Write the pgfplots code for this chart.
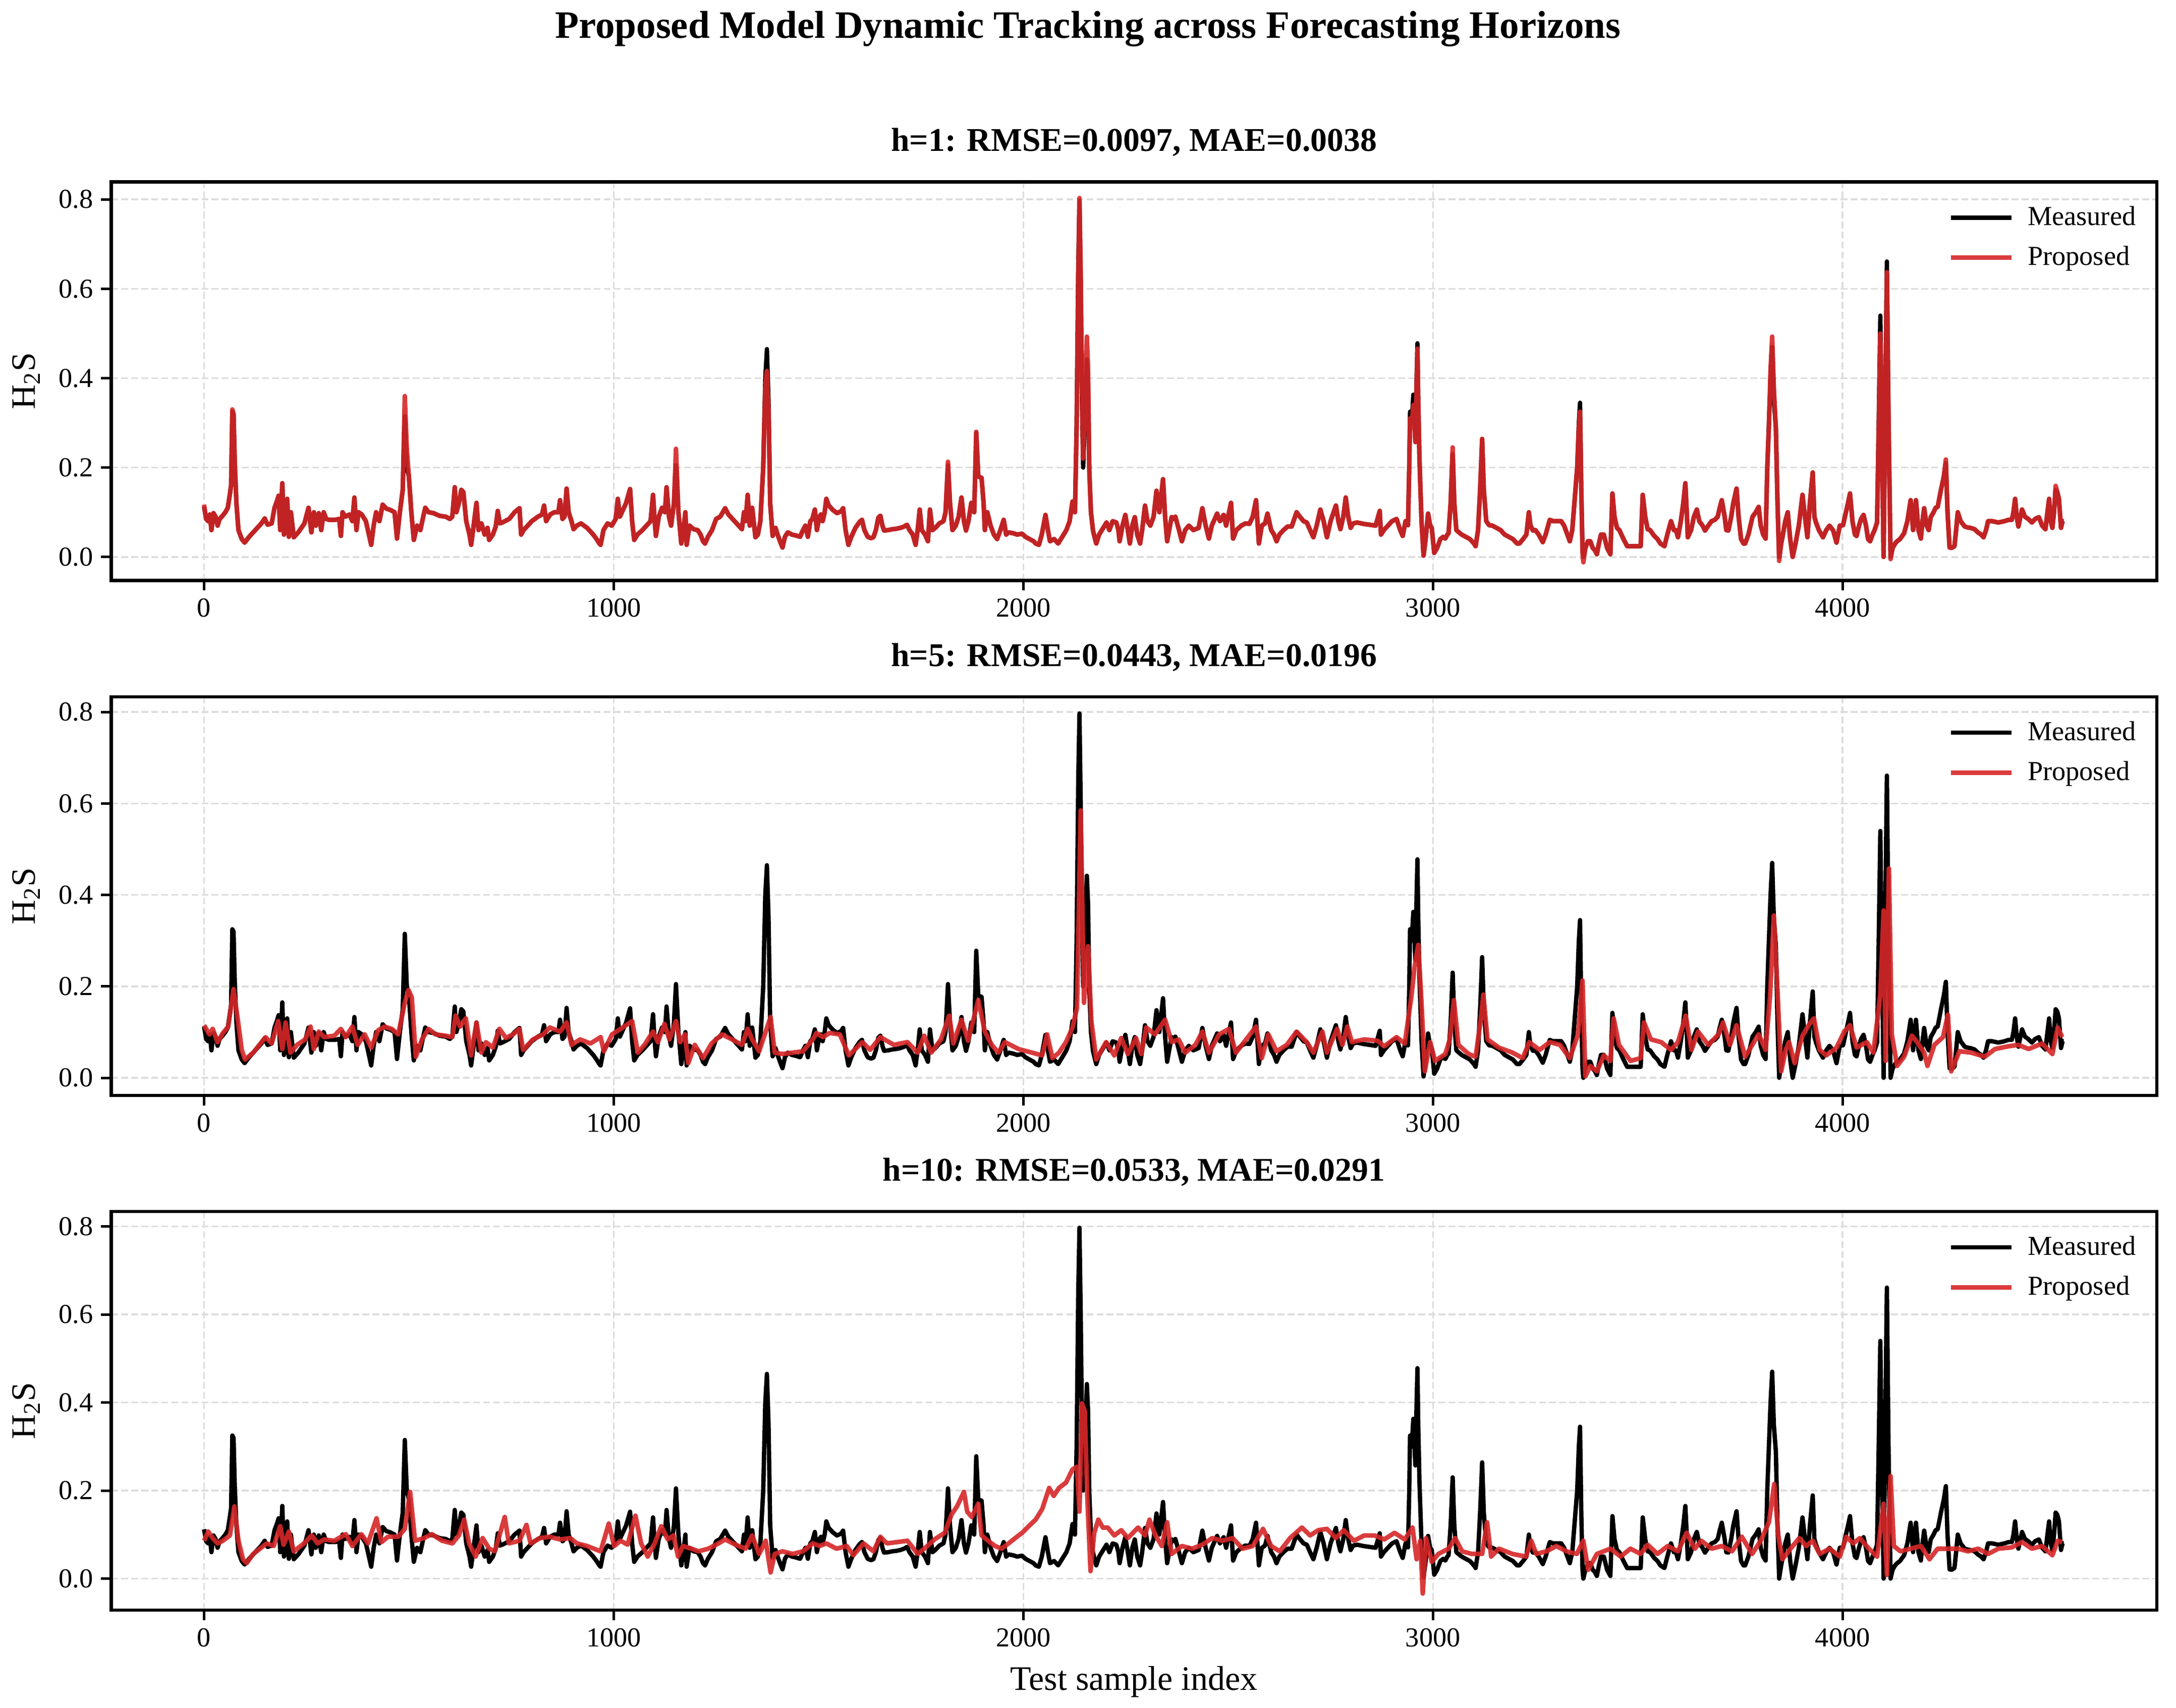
\documentclass[border=0pt]{standalone}
\usepackage{fontspec}
\setmainfont{Liberation Serif}
\usepackage{pgfplots}
\pgfplotsset{compat=1.18}
\usepackage{pgfplotstable}
\definecolor{tabred}{HTML}{D62728}
\definecolor{gridgray}{HTML}{DDDDDD}

\pgfplotstableread{
x m h1
0 0.112 0.117
5 0.085 0.085
10 0.080 0.080
14 0.095 0.095
18 0.060 0.060
23 0.098 0.098
28 0.090 0.090
33 0.070 0.070
38 0.085 0.085
45 0.092 0.092
52 0.100 0.100
58 0.110 0.110
63 0.140 0.140
66 0.160 0.160
69 0.325 0.330
72 0.320 0.320
75 0.210 0.210
79 0.120 0.120
84 0.060 0.060
92 0.040 0.040
99 0.032 0.032
110 0.045 0.045
125 0.060 0.060
140 0.075 0.075
148 0.086 0.086
155 0.072 0.072
165 0.075 0.075
172 0.110 0.110
178 0.125 0.125
182 0.137 0.137
186 0.060 0.060
191 0.165 0.165
195 0.050 0.050
200 0.060 0.060
203 0.130 0.130
207 0.045 0.045
212 0.100 0.100
219 0.044 0.044
230 0.055 0.055
245 0.075 0.075
255 0.110 0.110
262 0.055 0.055
268 0.100 0.100
273 0.070 0.070
280 0.098 0.098
286 0.060 0.060
292 0.100 0.100
298 0.085 0.085
305 0.083 0.083
320 0.083 0.083
330 0.085 0.085
334 0.047 0.047
338 0.100 0.100
345 0.090 0.090
355 0.095 0.095
362 0.080 0.080
367 0.133 0.133
372 0.060 0.060
377 0.100 0.100
385 0.095 0.095
395 0.080 0.080
400 0.060 0.060
408 0.027 0.027
414 0.070 0.070
420 0.100 0.100
428 0.080 0.080
436 0.117 0.117
445 0.108 0.108
455 0.105 0.105
465 0.100 0.100
471 0.041 0.041
478 0.100 0.100
485 0.150 0.150
490 0.315 0.360
495 0.200 0.240
500 0.180 0.180
506 0.100 0.100
512 0.038 0.038
520 0.070 0.070
528 0.060 0.060
535 0.090 0.090
540 0.110 0.110
548 0.100 0.100
560 0.098 0.098
575 0.092 0.092
590 0.090 0.090
600 0.085 0.085
606 0.090 0.090
612 0.156 0.156
616 0.100 0.100
622 0.120 0.120
628 0.150 0.150
633 0.145 0.145
640 0.080 0.080
648 0.050 0.050
652 0.027 0.027
658 0.070 0.070
665 0.121 0.121
670 0.060 0.060
677 0.075 0.075
685 0.050 0.050
692 0.065 0.065
696 0.038 0.038
705 0.050 0.050
712 0.068 0.068
717 0.103 0.103
722 0.075 0.075
730 0.078 0.078
745 0.085 0.085
758 0.100 0.100
770 0.109 0.109
774 0.050 0.050
780 0.060 0.060
790 0.070 0.070
800 0.080 0.080
815 0.090 0.090
825 0.095 0.095
830 0.115 0.115
835 0.080 0.080
845 0.095 0.095
855 0.100 0.100
865 0.100 0.100
869 0.127 0.127
875 0.085 0.085
880 0.090 0.090
885 0.153 0.153
890 0.100 0.100
897 0.080 0.080
902 0.062 0.062
910 0.070 0.070
920 0.075 0.075
935 0.065 0.065
950 0.050 0.050
958 0.040 0.040
965 0.030 0.030
968 0.027 0.027
975 0.060 0.060
985 0.075 0.075
995 0.070 0.070
1005 0.085 0.085
1010 0.130 0.130
1015 0.090 0.090
1020 0.100 0.100
1030 0.120 0.120
1040 0.152 0.152
1045 0.080 0.080
1050 0.038 0.038
1058 0.050 0.050
1070 0.060 0.060
1085 0.075 0.075
1090 0.080 0.080
1096 0.139 0.139
1100 0.080 0.080
1103 0.047 0.047
1110 0.090 0.090
1118 0.110 0.110
1125 0.100 0.100
1129 0.156 0.156
1135 0.090 0.090
1140 0.070 0.070
1147 0.120 0.120
1152 0.205 0.242
1158 0.100 0.100
1165 0.030 0.030
1170 0.060 0.060
1175 0.100 0.100
1178 0.027 0.027
1185 0.070 0.070
1195 0.062 0.062
1205 0.060 0.060
1212 0.050 0.050
1218 0.035 0.035
1223 0.030 0.030
1230 0.045 0.045
1240 0.060 0.060
1250 0.085 0.085
1260 0.090 0.090
1272 0.109 0.109
1280 0.095 0.095
1290 0.085 0.085
1300 0.075 0.075
1313 0.062 0.062
1318 0.100 0.100
1322 0.080 0.080
1327 0.139 0.139
1332 0.070 0.070
1338 0.110 0.110
1346 0.044 0.044
1352 0.050 0.050
1358 0.080 0.080
1365 0.200 0.200
1370 0.400 0.380
1374 0.465 0.416
1378 0.350 0.330
1382 0.120 0.120
1388 0.047 0.047
1395 0.065 0.065
1400 0.050 0.050
1406 0.035 0.035
1412 0.021 0.021
1418 0.045 0.045
1425 0.055 0.055
1435 0.050 0.050
1445 0.048 0.048
1455 0.045 0.045
1462 0.060 0.060
1468 0.070 0.070
1474 0.045 0.045
1480 0.080 0.080
1485 0.085 0.085
1491 0.106 0.106
1496 0.060 0.060
1502 0.090 0.090
1506 0.095 0.095
1510 0.080 0.080
1515 0.100 0.100
1519 0.130 0.130
1525 0.115 0.115
1535 0.105 0.105
1545 0.098 0.098
1555 0.102 0.102
1560 0.109 0.109
1566 0.060 0.060
1573 0.027 0.027
1580 0.045 0.045
1590 0.065 0.065
1600 0.078 0.078
1606 0.083 0.083
1612 0.060 0.060
1620 0.045 0.045
1628 0.042 0.042
1634 0.044 0.044
1640 0.060 0.060
1646 0.088 0.088
1651 0.092 0.092
1656 0.070 0.070
1660 0.059 0.059
1670 0.060 0.060
1680 0.062 0.062
1690 0.063 0.063
1700 0.065 0.065
1709 0.068 0.068
1716 0.072 0.072
1722 0.060 0.060
1730 0.050 0.050
1737 0.027 0.027
1742 0.060 0.060
1747 0.106 0.106
1752 0.060 0.060
1760 0.050 0.050
1767 0.035 0.035
1772 0.106 0.106
1778 0.060 0.060
1785 0.065 0.065
1795 0.075 0.075
1805 0.080 0.080
1810 0.100 0.100
1816 0.205 0.213
1821 0.120 0.120
1827 0.060 0.060
1835 0.070 0.070
1842 0.090 0.090
1849 0.133 0.133
1855 0.080 0.080
1860 0.059 0.059
1866 0.080 0.080
1873 0.121 0.121
1880 0.100 0.100
1885 0.278 0.280
1890 0.180 0.180
1898 0.177 0.177
1903 0.120 0.120
1906 0.060 0.060
1912 0.100 0.100
1920 0.070 0.070
1928 0.050 0.050
1936 0.040 0.040
1944 0.060 0.060
1952 0.083 0.083
1958 0.050 0.050
1964 0.055 0.055
1975 0.053 0.053
1985 0.050 0.050
1997 0.052 0.052
2005 0.045 0.045
2015 0.040 0.040
2025 0.035 0.035
2030 0.030 0.030
2038 0.027 0.027
2045 0.050 0.050
2054 0.094 0.094
2060 0.060 0.060
2065 0.035 0.035
2075 0.040 0.040
2085 0.030 0.030
2095 0.045 0.045
2105 0.060 0.060
2113 0.080 0.080
2120 0.124 0.124
2126 0.100 0.100
2130 0.300 0.280
2134 0.650 0.620
2137 0.797 0.803
2140 0.600 0.640
2143 0.350 0.380
2146 0.200 0.220
2150 0.300 0.330
2155 0.442 0.493
2158 0.380 0.420
2161 0.195 0.195
2165 0.100 0.100
2170 0.059 0.059
2175 0.040 0.040
2178 0.030 0.030
2185 0.050 0.050
2195 0.065 0.065
2203 0.077 0.077
2210 0.060 0.060
2218 0.080 0.080
2227 0.077 0.077
2232 0.060 0.060
2235 0.035 0.035
2242 0.070 0.070
2249 0.094 0.094
2255 0.060 0.060
2260 0.030 0.030
2266 0.070 0.070
2272 0.089 0.089
2278 0.050 0.050
2285 0.030 0.030
2290 0.060 0.060
2297 0.115 0.115
2303 0.080 0.080
2310 0.070 0.070
2318 0.090 0.090
2325 0.148 0.148
2332 0.100 0.100
2341 0.174 0.174
2346 0.090 0.090
2351 0.035 0.035
2356 0.060 0.060
2362 0.089 0.089
2367 0.085 0.085
2371 0.090 0.090
2380 0.060 0.060
2387 0.035 0.035
2395 0.060 0.060
2404 0.070 0.070
2415 0.060 0.060
2428 0.065 0.065
2437 0.109 0.109
2445 0.070 0.070
2453 0.041 0.041
2460 0.070 0.070
2473 0.097 0.097
2480 0.080 0.080
2489 0.094 0.094
2495 0.070 0.070
2507 0.121 0.121
2512 0.041 0.041
2520 0.060 0.060
2532 0.070 0.070
2542 0.075 0.075
2552 0.074 0.074
2560 0.090 0.090
2568 0.127 0.127
2575 0.030 0.030
2582 0.070 0.070
2590 0.075 0.075
2596 0.097 0.097
2605 0.060 0.060
2612 0.050 0.050
2618 0.035 0.035
2625 0.050 0.050
2635 0.060 0.060
2645 0.068 0.068
2655 0.068 0.068
2667 0.100 0.100
2675 0.090 0.090
2684 0.080 0.080
2692 0.077 0.077
2700 0.060 0.060
2708 0.044 0.044
2716 0.070 0.070
2725 0.106 0.106
2733 0.080 0.080
2741 0.044 0.044
2750 0.080 0.080
2763 0.115 0.115
2769 0.080 0.080
2774 0.062 0.062
2781 0.090 0.090
2787 0.133 0.133
2793 0.090 0.090
2799 0.065 0.065
2805 0.075 0.075
2815 0.077 0.077
2830 0.074 0.074
2845 0.072 0.072
2860 0.070 0.070
2870 0.103 0.103
2873 0.050 0.050
2880 0.060 0.060
2890 0.070 0.070
2900 0.080 0.080
2911 0.085 0.085
2920 0.060 0.060
2926 0.047 0.047
2933 0.080 0.080
2939 0.071 0.071
2942 0.200 0.200
2944 0.325 0.310
2948 0.300 0.290
2952 0.363 0.340
2955 0.300 0.290
2957 0.257 0.257
2960 0.400 0.390
2962 0.478 0.466
2964 0.350 0.350
2967 0.218 0.218
2972 0.080 0.080
2977 0.003 0.003
2982 0.040 0.040
2988 0.097 0.097
2993 0.070 0.070
2997 0.065 0.065
3003 0.009 0.009
3010 0.020 0.020
3018 0.040 0.040
3025 0.045 0.045
3030 0.041 0.041
3035 0.050 0.050
3038 0.053 0.053
3043 0.120 0.120
3048 0.230 0.245
3052 0.120 0.120
3057 0.060 0.060
3062 0.056 0.056
3070 0.050 0.050
3080 0.045 0.045
3090 0.040 0.040
3095 0.035 0.035
3100 0.030 0.030
3104 0.024 0.024
3110 0.060 0.060
3115 0.150 0.150
3120 0.264 0.264
3124 0.150 0.150
3130 0.080 0.080
3137 0.071 0.071
3145 0.070 0.070
3155 0.065 0.065
3165 0.060 0.060
3175 0.050 0.050
3185 0.045 0.045
3195 0.040 0.040
3205 0.030 0.030
3211 0.030 0.030
3220 0.040 0.040
3228 0.050 0.050
3234 0.100 0.100
3238 0.070 0.070
3244 0.059 0.059
3250 0.060 0.060
3258 0.050 0.050
3268 0.033 0.033
3275 0.050 0.050
3285 0.083 0.083
3293 0.080 0.080
3300 0.080 0.080
3313 0.080 0.080
3320 0.070 0.070
3328 0.050 0.050
3334 0.035 0.035
3340 0.060 0.060
3346 0.130 0.130
3352 0.200 0.200
3356 0.300 0.290
3359 0.345 0.325
3362 0.150 0.150
3365 0.020 0.010
3367 0.000 -0.012
3372 0.020 0.020
3378 0.035 0.035
3384 0.035 0.035
3390 0.020 0.020
3395 0.015 0.015
3400 0.006 0.006
3405 0.030 0.030
3410 0.050 0.050
3417 0.050 0.050
3425 0.020 0.020
3433 0.006 0.006
3438 0.142 0.142
3443 0.090 0.090
3449 0.065 0.065
3455 0.060 0.060
3465 0.040 0.040
3474 0.024 0.024
3482 0.024 0.024
3490 0.024 0.024
3500 0.024 0.024
3507 0.024 0.024
3512 0.139 0.139
3518 0.090 0.090
3524 0.062 0.062
3530 0.060 0.060
3540 0.047 0.047
3548 0.040 0.040
3555 0.030 0.030
3565 0.024 0.024
3572 0.050 0.050
3581 0.080 0.080
3588 0.060 0.060
3593 0.060 0.060
3598 0.044 0.044
3605 0.080 0.080
3611 0.120 0.120
3616 0.165 0.165
3620 0.090 0.090
3622 0.044 0.044
3630 0.060 0.060
3637 0.090 0.090
3644 0.106 0.106
3650 0.080 0.080
3658 0.070 0.070
3664 0.059 0.059
3672 0.070 0.070
3680 0.080 0.080
3688 0.083 0.083
3695 0.090 0.090
3700 0.110 0.110
3705 0.127 0.127
3712 0.090 0.090
3716 0.060 0.060
3721 0.059 0.059
3728 0.090 0.090
3733 0.120 0.120
3741 0.153 0.153
3746 0.090 0.090
3752 0.040 0.040
3758 0.030 0.030
3762 0.030 0.030
3770 0.050 0.050
3780 0.090 0.090
3788 0.100 0.100
3795 0.112 0.112
3800 0.070 0.070
3806 0.050 0.050
3812 0.041 0.041
3816 0.200 0.200
3820 0.301 0.290
3824 0.400 0.420
3828 0.470 0.493
3832 0.350 0.380
3837 0.289 0.289
3841 0.120 0.120
3845 0.000 -0.009
3850 0.030 0.030
3853 0.044 0.044
3860 0.080 0.080
3866 0.100 0.100
3872 0.040 0.040
3878 0.000 0.000
3885 0.030 0.030
3893 0.070 0.070
3902 0.139 0.139
3908 0.090 0.090
3914 0.044 0.044
3920 0.120 0.120
3927 0.189 0.189
3931 0.090 0.090
3935 0.077 0.077
3942 0.060 0.060
3952 0.044 0.044
3960 0.060 0.060
3968 0.070 0.070
3977 0.059 0.059
3985 0.032 0.032
3993 0.070 0.070
4001 0.071 0.071
4008 0.100 0.100
4013 0.120 0.120
4018 0.142 0.142
4024 0.080 0.080
4030 0.050 0.050
4034 0.047 0.047
4040 0.070 0.070
4045 0.085 0.085
4051 0.094 0.094
4057 0.070 0.070
4062 0.040 0.040
4067 0.035 0.035
4073 0.050 0.050
4078 0.060 0.060
4084 0.077 0.077
4088 0.300 0.280
4092 0.540 0.500
4096 0.250 0.250
4100 0.000 0.000
4104 0.350 0.330
4108 0.661 0.637
4112 0.300 0.320
4117 0.000 -0.005
4122 0.020 0.020
4128 0.030 0.030
4133 0.035 0.035
4140 0.040 0.040
4150 0.053 0.053
4158 0.080 0.080
4166 0.127 0.127
4172 0.060 0.060
4175 0.090 0.090
4179 0.127 0.127
4185 0.060 0.060
4191 0.041 0.041
4195 0.080 0.080
4199 0.109 0.109
4205 0.070 0.070
4210 0.060 0.060
4215 0.089 0.089
4222 0.100 0.100
4227 0.110 0.110
4232 0.112 0.112
4240 0.150 0.150
4247 0.180 0.180
4252 0.210 0.218
4256 0.100 0.100
4261 0.021 0.021
4266 0.020 0.020
4273 0.024 0.024
4277 0.060 0.060
4281 0.100 0.100
4288 0.080 0.080
4298 0.068 0.068
4305 0.066 0.066
4312 0.065 0.065
4322 0.062 0.062
4330 0.055 0.055
4338 0.050 0.050
4344 0.044 0.044
4350 0.060 0.060
4355 0.080 0.080
4365 0.080 0.080
4380 0.077 0.077
4395 0.080 0.080
4405 0.083 0.083
4413 0.083 0.083
4417 0.100 0.100
4421 0.130 0.130
4425 0.090 0.090
4429 0.068 0.068
4434 0.090 0.090
4438 0.106 0.106
4445 0.090 0.090
4453 0.085 0.085
4462 0.077 0.077
4470 0.085 0.085
4479 0.089 0.089
4487 0.070 0.070
4495 0.062 0.062
4500 0.100 0.100
4504 0.130 0.130
4508 0.080 0.080
4512 0.065 0.065
4516 0.100 0.100
4520 0.150 0.159
4524 0.145 0.145
4528 0.130 0.130
4533 0.065 0.065
4537 0.080 0.080
4540 0.080 0.080
}\meas

\pgfplotstableread{
x y
0 0.115
13 0.095
21 0.107
33 0.078
46 0.098
59 0.112
72 0.194
82 0.130
92 0.061
100 0.040
120 0.055
150 0.089
165 0.075
181 0.124
191 0.063
199 0.121
211 0.055
227 0.072
247 0.084
260 0.112
268 0.063
280 0.101
293 0.089
318 0.092
334 0.107
346 0.089
362 0.112
375 0.072
392 0.095
408 0.066
425 0.104
441 0.112
458 0.107
474 0.095
490 0.164
499 0.192
507 0.176
517 0.046
532 0.084
548 0.107
565 0.095
589 0.092
606 0.089
614 0.136
625 0.112
639 0.130
652 0.049
665 0.121
677 0.055
688 0.078
705 0.066
721 0.107
737 0.087
754 0.095
770 0.107
779 0.061
803 0.084
828 0.095
844 0.110
869 0.101
885 0.121
897 0.072
918 0.084
943 0.075
968 0.089
976 0.058
996 0.095
1017 0.107
1045 0.124
1059 0.055
1075 0.072
1096 0.101
1108 0.078
1124 0.118
1136 0.084
1152 0.124
1162 0.078
1174 0.095
1182 0.032
1198 0.072
1218 0.043
1239 0.075
1264 0.095
1289 0.084
1313 0.072
1327 0.107
1338 0.084
1355 0.058
1371 0.101
1383 0.133
1393 0.055
1412 0.052
1437 0.055
1462 0.058
1486 0.084
1495 0.098
1511 0.089
1527 0.098
1552 0.095
1574 0.049
1607 0.078
1626 0.061
1651 0.089
1684 0.072
1717 0.078
1742 0.055
1758 0.092
1775 0.055
1799 0.084
1819 0.136
1829 0.075
1849 0.127
1865 0.081
1890 0.170
1906 0.101
1923 0.072
1939 0.055
1955 0.078
1988 0.063
2021 0.055
2046 0.049
2058 0.095
2071 0.043
2087 0.055
2104 0.078
2120 0.110
2131 0.153
2140 0.585
2148 0.164
2158 0.288
2166 0.124
2178 0.040
2202 0.078
2222 0.049
2239 0.087
2255 0.052
2275 0.087
2288 0.052
2300 0.110
2321 0.095
2346 0.127
2362 0.078
2379 0.084
2395 0.055
2420 0.072
2437 0.101
2453 0.055
2478 0.095
2502 0.107
2519 0.055
2544 0.084
2568 0.112
2582 0.043
2598 0.095
2618 0.058
2643 0.072
2667 0.101
2692 0.078
2708 0.055
2730 0.101
2741 0.055
2766 0.107
2779 0.072
2791 0.112
2802 0.078
2832 0.084
2865 0.081
2881 0.069
2911 0.089
2931 0.075
2947 0.176
2955 0.242
2964 0.291
2972 0.164
2980 0.014
2993 0.078
3005 0.037
3030 0.052
3041 0.084
3051 0.170
3062 0.072
3087 0.052
3104 0.046
3117 0.130
3123 0.182
3133 0.084
3161 0.066
3194 0.055
3219 0.043
3235 0.078
3260 0.061
3285 0.078
3310 0.072
3334 0.043
3354 0.095
3365 0.213
3372 0.003
3384 0.026
3400 0.014
3417 0.049
3433 0.037
3441 0.130
3454 0.072
3482 0.037
3507 0.043
3515 0.121
3532 0.084
3557 0.078
3581 0.061
3598 0.078
3617 0.136
3631 0.061
3647 0.101
3672 0.072
3697 0.095
3708 0.121
3725 0.072
3741 0.115
3762 0.046
3795 0.095
3812 0.061
3823 0.182
3832 0.355
3840 0.210
3850 0.014
3861 0.061
3869 0.078
3883 0.032
3902 0.092
3919 0.118
3930 0.130
3944 0.061
3960 0.049
3985 0.066
4004 0.101
4018 0.115
4034 0.066
4059 0.078
4075 0.055
4092 0.182
4100 0.366
4105 0.037
4113 0.458
4120 0.095
4133 0.026
4150 0.046
4169 0.092
4182 0.078
4199 0.055
4207 0.026
4224 0.072
4245 0.089
4257 0.138
4265 0.014
4285 0.058
4314 0.055
4347 0.046
4372 0.063
4405 0.069
4429 0.072
4454 0.063
4487 0.075
4512 0.052
4525 0.110
4536 0.089
}\hfive

\pgfplotstableread{
x y
0 0.086
10 0.107
21 0.092
33 0.080
46 0.086
63 0.098
74 0.164
84 0.086
95 0.044
104 0.035
120 0.056
153 0.080
170 0.074
186 0.119
194 0.077
207 0.107
219 0.062
244 0.080
263 0.098
277 0.080
293 0.089
318 0.086
346 0.101
362 0.074
384 0.101
400 0.080
421 0.137
433 0.083
449 0.095
474 0.095
490 0.113
503 0.197
515 0.086
537 0.092
556 0.101
581 0.086
606 0.080
622 0.098
635 0.134
647 0.080
663 0.050
680 0.092
696 0.068
710 0.062
734 0.140
744 0.080
770 0.086
787 0.122
797 0.080
820 0.092
844 0.095
869 0.089
894 0.092
910 0.080
935 0.074
968 0.062
988 0.125
1001 0.074
1017 0.086
1034 0.077
1053 0.143
1067 0.080
1083 0.050
1100 0.080
1116 0.119
1132 0.089
1146 0.098
1157 0.050
1169 0.074
1190 0.068
1207 0.062
1231 0.068
1256 0.080
1272 0.089
1297 0.077
1322 0.068
1338 0.098
1355 0.056
1371 0.086
1383 0.014
1393 0.056
1412 0.062
1437 0.056
1462 0.062
1486 0.080
1503 0.074
1519 0.080
1544 0.068
1569 0.074
1585 0.053
1610 0.080
1634 0.062
1651 0.095
1667 0.080
1692 0.083
1717 0.086
1742 0.056
1762 0.071
1783 0.089
1808 0.104
1825 0.146
1838 0.164
1855 0.197
1863 0.152
1874 0.140
1890 0.170
1898 0.098
1914 0.086
1931 0.074
1947 0.068
1964 0.080
1980 0.092
1997 0.104
2013 0.119
2030 0.134
2046 0.158
2063 0.206
2074 0.188
2087 0.206
2104 0.218
2120 0.248
2131 0.254
2137 0.152
2143 0.398
2150 0.380
2156 0.188
2164 0.017
2173 0.104
2183 0.134
2194 0.116
2206 0.116
2222 0.098
2239 0.110
2255 0.092
2280 0.116
2297 0.098
2308 0.134
2321 0.101
2338 0.074
2351 0.128
2362 0.056
2387 0.074
2412 0.068
2437 0.077
2461 0.092
2486 0.086
2511 0.092
2535 0.068
2560 0.074
2585 0.113
2605 0.074
2626 0.062
2651 0.092
2680 0.116
2700 0.098
2720 0.110
2741 0.113
2763 0.092
2782 0.110
2807 0.086
2832 0.098
2857 0.098
2881 0.089
2906 0.104
2931 0.089
2950 0.116
2960 0.044
2969 0.086
2975 -0.034
2983 0.092
2997 0.038
3013 0.056
3038 0.068
3054 0.092
3071 0.062
3095 0.056
3120 0.056
3132 0.128
3142 0.050
3161 0.068
3194 0.056
3227 0.050
3240 0.086
3252 0.056
3277 0.062
3301 0.074
3326 0.062
3351 0.056
3367 0.086
3379 0.020
3400 0.056
3433 0.068
3458 0.050
3482 0.068
3507 0.056
3524 0.077
3548 0.056
3573 0.074
3598 0.062
3619 0.104
3639 0.068
3655 0.086
3680 0.068
3705 0.074
3730 0.062
3754 0.095
3779 0.056
3800 0.086
3820 0.128
3833 0.215
3843 0.098
3853 0.044
3873 0.068
3894 0.092
3911 0.074
3927 0.086
3944 0.056
3968 0.068
3993 0.050
4009 0.095
4026 0.080
4042 0.092
4064 0.068
4084 0.050
4100 0.170
4108 0.008
4117 0.233
4125 0.074
4141 0.062
4166 0.068
4191 0.074
4212 0.044
4232 0.068
4257 0.068
4281 0.068
4306 0.062
4331 0.068
4355 0.056
4380 0.068
4413 0.071
4438 0.083
4462 0.068
4487 0.074
4512 0.053
4525 0.086
4536 0.083
}\hten

\pgfplotsset{
  panel/.style={
    scale only axis, width=895.1pt, height=174.4pt,
    xmin=-227, xmax=4767,
    xtick={0,1000,2000,3000,4000},
    ytick={0,0.2,0.4,0.6,0.8},
    scaled x ticks=false, scaled y ticks=false,
    xticklabel style={/pgf/number format/1000 sep={}},
    yticklabel style={/pgf/number format/.cd,fixed,fixed zerofill,precision=1},
    /pgf/number format/assume math mode=true,
    tick label style={font=\fontsize{12}{14}\selectfont},
    tick align=outside, major tick length=4.4pt,
    every tick/.style={black, line width=1.1pt},
    axis line style={line width=1.5pt},
    xtick pos=bottom, ytick pos=left,
    grid=major,
    major grid style={gridgray, line width=0.8pt, dash pattern=on 3pt off 1.4pt},
    title style={at={(axis description cs:0.5,1)}, anchor=base, yshift=7.3pt,
      font=\bfseries\fontsize{14.5}{17}\selectfont},
    ylabel={H\textsubscript{2}S},
    ylabel style={at={(axis description cs:-0.0345,0.5)}, anchor=south,
      inner sep=0pt, font=\fontsize{15}{18}\selectfont},
    legend cell align=left,
    legend style={draw=none, fill=none, at={(axis description cs:1,1)},
      anchor=north east, xshift=-4pt, yshift=-6.6pt,
      font=\fontsize{12}{14}\selectfont, row sep=3.6pt,
      /tikz/every odd column/.append style={column sep=4pt}},
    legend image code/.code={\draw[#1] (0pt,0pt) -- (26.5pt,0pt);},
    clip=true,
  },
  meas/.style={black, line width=1.9pt, line join=round},
  pred/.style={tabred, opacity=0.9, line width=2pt, line join=round},
}

\begin{document}
\begin{tikzpicture}
\useasboundingbox (0,0) rectangle (952.1pt,747.2pt);
\node[anchor=base, font=\bfseries\fontsize{17}{20}\selectfont] at (476pt,730.6pt)
  {Proposed Model Dynamic Tracking across Forecasting Horizons};

\begin{axis}[panel, at={(48.6pt,493.3pt)}, anchor=south west,
  ymin=-0.0524, ymax=0.8396,
  title={h=1: RMSE=0.0097, MAE=0.0038}]
\addplot[meas] table[x=x, y=m] {\meas};
\addlegendentry{Measured}
\addplot[pred] table[x=x, y=h1] {\meas};
\addlegendentry{Proposed}
\end{axis}

\begin{axis}[panel, at={(48.6pt,267.95pt)}, anchor=south west,
  ymin=-0.0386, ymax=0.8335,
  title={h=5: RMSE=0.0443, MAE=0.0196}]
\addplot[meas] table[x=x, y=m] {\meas};
\addlegendentry{Measured}
\addplot[pred] table[x=x, y=y] {\hfive};
\addlegendentry{Proposed}
\end{axis}

\begin{axis}[panel, at={(48.6pt,42.8pt)}, anchor=south west,
  ymin=-0.0715, ymax=0.834,
  title={h=10: RMSE=0.0533, MAE=0.0291},
  xlabel={Test sample index},
  xlabel style={at={(axis description cs:0.5,0)}, anchor=base, yshift=-35.1pt,
    font=\fontsize{15}{18}\selectfont}]
\addplot[meas] table[x=x, y=m] {\meas};
\addlegendentry{Measured}
\addplot[pred] table[x=x, y=y] {\hten};
\addlegendentry{Proposed}
\end{axis}
\end{tikzpicture}
\end{document}
